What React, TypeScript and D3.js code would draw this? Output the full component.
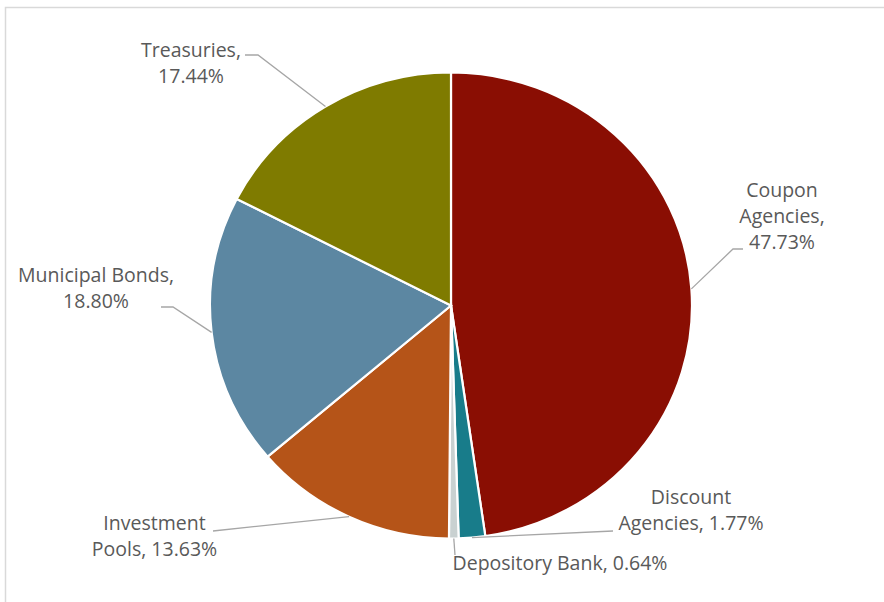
import React from "react";
import * as d3 from "d3";

const categories = [
  "Coupon Agencies",
  "Discount Agencies",
  "Depository Bank",
  "Investment Pools",
  "Municipal Bonds",
  "Treasuries",
];
const values = [47.73, 1.77, 0.64, 13.63, 18.8, 17.44];
const colors = ["#8A0E03", "#187C8A", "#C9D1D1", "#B55418", "#5C87A2", "#7F7B00"];
const labelLines = [
  ["Coupon", "Agencies,", "47.73%"],
  ["Discount", "Agencies, 1.77%"],
  ["Depository Bank, 0.64%"],
  ["Investment", "Pools, 13.63%"],
  ["Municipal Bonds,", "18.80%"],
  ["Treasuries,", "17.44%"],
];

// layout: label centre x, first baseline y, leader elbow points
const labelLayout = [
  { x: 782, y: 197, elbow: [[733, 249], [743, 249]] },
  { x: 691, y: 504, elbow: [[613, 531]] },
  { x: 560, y: 570, elbow: [[455, 555]] },
  { x: 154.5, y: 530, elbow: [[213, 531]] },
  { x: 96, y: 282, elbow: [[173, 307], [161, 307]] },
  { x: 191, y: 57, elbow: [[258, 55], [245, 55]] },
];

const W = 884;
const H = 602;
const cx = 451;
const cy = 305.5;
const rx = 241;
const ry = 233;

export default function App() {
  const pie = d3.pie<number>().sort(null).value((d) => d)(values);
  const arc = d3.arc<d3.PieArcDatum<number>>().innerRadius(0).outerRadius(ry);
  const sx = rx / ry;
  const lineH = 26;

  return (
    <svg
      width={W}
      height={H}
      style={{ position: "absolute", left: 0, top: 0, background: "#fff" }}
      fontFamily="'Open Sans', sans-serif"
    >
      <rect x={5.5} y={7.5} width={W + 10} height={H + 10} fill="#fff" stroke="#D9D9D9" strokeWidth={1.5} />
      <g transform={`translate(${cx},${cy}) scale(${sx},1)`}>
        {pie.map((p, i) => (
          <path key={i} d={arc(p) || ""} fill={colors[i]} stroke="#fff" strokeWidth={2.2} vectorEffect="non-scaling-stroke" />
        ))}
      </g>
      {pie.map((p, i) => {
        const a = (p.startAngle + p.endAngle) / 2;
        const px = cx + rx * Math.sin(a);
        const py = cy - ry * Math.cos(a);
        const L = labelLayout[i];
        const pts = [[px, py], ...L.elbow];
        return (
          <polyline
            key={"l" + i}
            points={pts.map((q) => q.join(",")).join(" ")}
            fill="none"
            stroke="#A6A6A6"
            strokeWidth={1.3}
          />
        );
      })}
      {labelLines.map((lines, i) => {
        const L = labelLayout[i];
        return (
          <g key={"t" + i} fill="#595959" fontSize={19.5}>
            {lines.map((t, j) => (
              <text key={j} x={L.x} y={L.y + j * lineH} textAnchor="middle">
                {t}
              </text>
            ))}
          </g>
        );
      })}
    </svg>
  );
}
